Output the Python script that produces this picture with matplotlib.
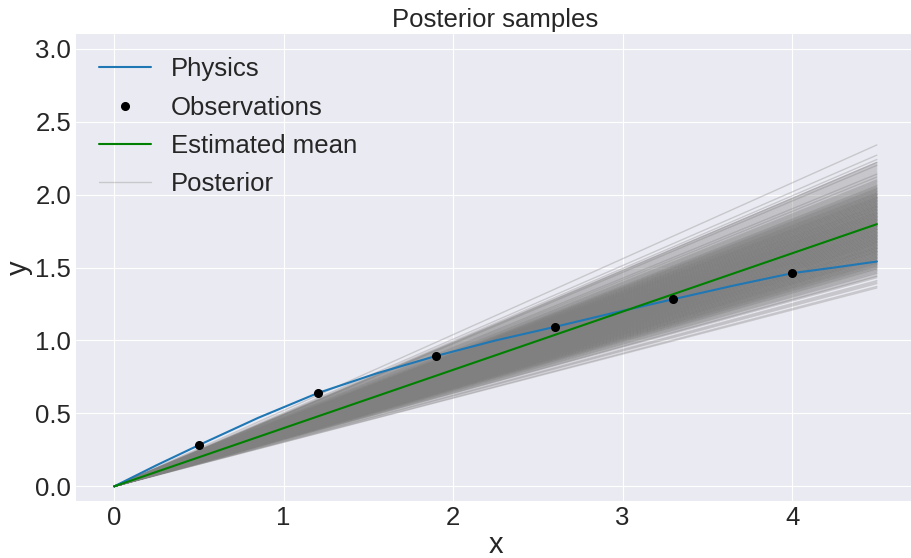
import matplotlib
matplotlib.use("Agg")
import matplotlib.pyplot as plt
import numpy as np

plt.style.use("seaborn-v0_8-darkgrid")
plt.rcParams['font.family'] = ['Liberation Sans', 'DejaVu Sans']

# Observations
obs_x = [0.5, 1.2, 1.9, 2.6, 3.3, 4.0]
obs_y = [0.283, 0.639, 0.894, 1.093, 1.283, 1.461]

# Physics curve
phys_x = [0.0, 0.25, 0.5, 0.85, 1.2, 1.55, 1.9, 2.25, 2.6, 2.95, 3.3, 3.65, 4.0, 4.25, 4.5]
phys_y = [0.0, 0.145, 0.283, 0.47, 0.639, 0.775, 0.894, 1.0, 1.093, 1.19, 1.283, 1.375, 1.461, 1.50, 1.541]

# Estimated mean line (end points)
mean_x = [0.0, 4.5]
mean_y = [0.0, 1.797]

# Posterior lines: value at x=4.5 and how many samples end there
post_end = [1.36, 1.37, 1.39, 1.40, 1.41, 1.43, 1.44, 1.45, 1.46, 1.47, 1.48, 1.49,
            1.50, 1.51, 1.52, 1.53, 1.54, 1.55, 1.56, 1.57, 1.58, 1.59,
            1.60, 1.61, 1.62, 1.63, 1.64, 1.65, 1.66, 1.67, 1.68, 1.69,
            1.70, 1.71, 1.72, 1.73, 1.74, 1.75, 1.76, 1.77, 1.78, 1.79,
            1.80, 1.81, 1.82, 1.83, 1.84, 1.85, 1.86, 1.87, 1.88, 1.89,
            1.90, 1.91, 1.92, 1.93, 1.94, 1.95, 1.96, 1.97, 1.98, 1.99,
            2.00, 2.01, 2.02, 2.03, 2.04, 2.05, 2.06,
            2.07, 2.08, 2.09, 2.10, 2.11, 2.12, 2.13, 2.14, 2.15, 2.16, 2.17, 2.18, 2.19, 2.20,
            2.21, 2.22, 2.24, 2.27, 2.34]
post_count = [1, 1, 1, 1, 1, 1, 2, 1, 2, 2, 2, 3,
              3, 4, 4, 5, 5, 5, 6, 6, 6, 6,
              6, 7, 6, 7, 7, 6, 7, 7, 7, 7,
              7, 7, 7, 7, 7, 7, 7, 7, 7, 7,
              7, 7, 7, 7, 7, 7, 7, 7, 7, 6,
              7, 6, 7, 6, 6, 6, 6, 6, 6, 5,
              5, 5, 4, 4, 4, 3, 3,
              2, 2, 2, 2, 1, 2, 1, 2, 1, 1, 1, 1, 1, 2,
              1, 2, 1, 1, 1]
post_x = [0.0, 4.5]

fig = plt.figure(figsize=(9.11, 5.58), dpi=100)
ax = fig.add_axes([76/911, 57/558, (915-76)/911, (501-34)/558])

first = True
for end, cnt in zip(post_end, post_count):
    for _ in range(cnt):
        ax.plot(post_x, [0.0, end], color='gray', alpha=0.33, linewidth=1.0,
                label='Posterior' if first else None, zorder=1)
        first = False

ax.plot(phys_x, phys_y, color='C0', linewidth=1.5, label='Physics', zorder=3)
ax.plot(obs_x, obs_y, 'o', color='k', markersize=5.5, label='Observations', zorder=4)
ax.plot(mean_x, mean_y, color='g', linewidth=1.5, label='Estimated mean', zorder=3)

handles, labels = ax.get_legend_handles_labels()
order = ['Physics', 'Observations', 'Estimated mean', 'Posterior']
hmap = dict(zip(labels, handles))
ax.legend([hmap[k] for k in order], order, loc='upper left', frameon=False,
          fontsize=18.5, labelspacing=0.56)

ax.set_xlim(-0.225, 4.725)
ax.set_ylim(-0.1, 3.1)
ax.set_xticks([0, 1, 2, 3, 4])
ax.set_yticks([0.0, 0.5, 1.0, 1.5, 2.0, 2.5, 3.0])
ax.tick_params(labelsize=18.5)
ax.set_xlabel('x', fontsize=21, labelpad=1)
ax.set_ylabel('y', fontsize=21, labelpad=2)
ax.set_title('Posterior samples', fontsize=18.5, pad=5)

fig.savefig('out.png', dpi=100)
